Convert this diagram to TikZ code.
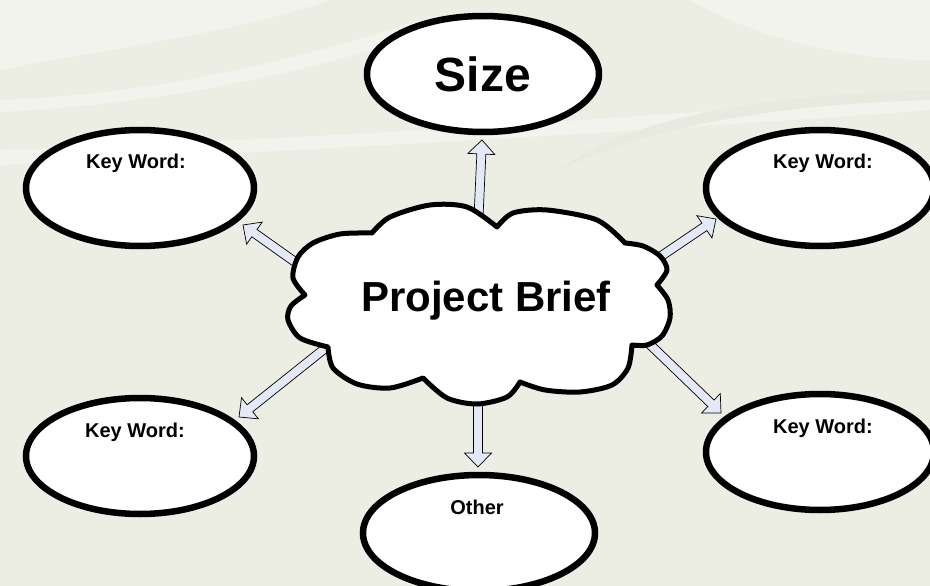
\documentclass[tikz,border=0pt]{standalone}
\usepackage{fontspec}
\setmainfont{Liberation Sans}
\usetikzlibrary{calc,shapes.geometric}
\definecolor{bgbase}{RGB}{236,238,228}
\definecolor{bglight}{RGB}{242,243,236}
\definecolor{bgdark}{RGB}{231,234,222}
\definecolor{arrowfill}{RGB}{227,233,246}
\newcommand\blockarrow[2]{%
  \coordinate (bah) at ($(#2)!14pt!(#1)$);
  \draw[barrow] ($(#1)!4.5pt!90:(#2)$) -- ($(bah)!4.5pt!-90:(#1)$) -- ($(bah)!13.5pt!-90:(#1)$) -- (#2)
     -- ($(bah)!13.5pt!90:(#1)$) -- ($(bah)!4.5pt!90:(#1)$) -- ($(#1)!4.5pt!-90:(#2)$) -- cycle;
}
\tikzset{
  bubble/.style={ellipse, draw=black, line width=6.5pt, fill=white, minimum width=228pt, minimum height=116pt, inner sep=0pt},
  bigbubble/.style={bubble, minimum width=232pt},
  kwtext/.style={font=\bfseries\fontsize{20}{24}\selectfont, inner sep=0pt},
  barrow/.style={draw=black, line width=0.7pt, fill=arrowfill, line join=miter},
  cloudline/.style={draw=black, line width=5pt, fill=white, line join=round}
}
\begin{document}
\begin{tikzpicture}[x=1pt,y=1pt]
\useasboundingbox (0,0) rectangle (930,-586);
\clip (0,0) rectangle (930,-586);
% background
\fill[bgbase] (0,0) rectangle (930,-586);
\fill[bglight] (0,0) -- (330,0) .. controls (250,-30) and (100,-50) .. (0,-70) -- cycle;
\fill[bglight] (690,0) .. controls (760,-40) and (850,-60) .. (930,-60) -- (930,0) -- cycle;
\fill[bglight] (0,-150) .. controls (300,-140) and (600,-120) .. (930,-95) -- (930,-110) .. controls (600,-135) and (300,-150) .. (0,-165) -- cycle;
\fill[bgdark] (560,-170) .. controls (620,-120) and (760,-95) .. (930,-90) -- (930,-100) .. controls (760,-105) and (640,-130) .. (560,-170) -- cycle;
\fill[bglight] (0,-100) .. controls (150,-95) and (300,-60) .. (420,-20) -- (420,-35) .. controls (300,-75) and (150,-105) .. (0,-112) -- cycle;

% nodes
\node[bigbubble] (size) at (483,-74) {};
\node[bubble] (kw1) at (140,-188) {};
\node[bubble] (kw2) at (820,-188) {};
\node[bubble] (kw3) at (140,-456) {};
\node[bubble] (kw4) at (820,-452) {};
\node[bigbubble] (other) at (479,-533) {};

\node[font=\bfseries\fontsize{48}{56}\selectfont, inner sep=0pt] at (size.center) {Size};
\node[kwtext] at ([shift={(-4,25)}]kw1.center) {Key Word:};
\node[kwtext] at ([shift={(3,25)}]kw2.center) {Key Word:};
\node[kwtext] at ([shift={(-5,24)}]kw3.center) {Key Word:};
\node[kwtext] at ([shift={(3,24)}]kw4.center) {Key Word:};
\node[kwtext] at ([shift={(-2,26)}]other.center) {Other};

% arrow coordinates
\coordinate (s1) at (478,-228);  \coordinate (t1) at (482,-140);
\coordinate (s2) at (478,-388);  \coordinate (t2) at (478,-467);
\coordinate (s3) at (312,-274);  \coordinate (t3) at (243,-225);
\coordinate (s4) at (648,-265);  \coordinate (t4) at (716,-219);
\coordinate (s5) at (333,-342);  \coordinate (t5) at (239,-417);
\coordinate (s6) at (638,-333);  \coordinate (t6) at (721,-413);
\blockarrow{s1}{t1}
\blockarrow{s2}{t2}
\blockarrow{s3}{t3}
\blockarrow{s4}{t4}
\blockarrow{s5}{t5}
\blockarrow{s6}{t6}

% cloud
\draw[cloudline]
  plot[smooth] coordinates {(372,-233) (390,-217) (430,-205) (467,-207) (497,-227)}
  -- plot[smooth] coordinates {(497,-227) (513,-213) (547,-210) (597,-220) (625,-243)}
  -- plot[smooth] coordinates {(625,-243) (643,-246) (660,-256) (667,-270) (657,-285)}
  -- plot[smooth] coordinates {(657,-285) (668,-300) (670,-318) (662,-336) (647,-345) (632,-345)}
  -- plot[smooth] coordinates {(632,-345) (628,-368) (612,-385) (580,-392) (545,-390) (520,-382)}
  -- plot[smooth] coordinates {(520,-382) (507,-397) (477,-404) (447,-398) (423,-378)}
  -- plot[smooth] coordinates {(423,-378) (390,-388) (357,-384) (333,-368) (328,-347)}
  -- plot[smooth] coordinates {(328,-347) (300,-338) (288,-320) (291,-306) (305,-295)}
  -- plot[smooth] coordinates {(305,-295) (293,-278) (298,-257) (313,-243) (340,-234) (372,-233)}
  -- cycle;
\node[font=\bfseries\fontsize{42}{50}\selectfont, inner sep=0pt] (brief) at (486,-301) {Project Brief};
\end{tikzpicture}
\end{document}
